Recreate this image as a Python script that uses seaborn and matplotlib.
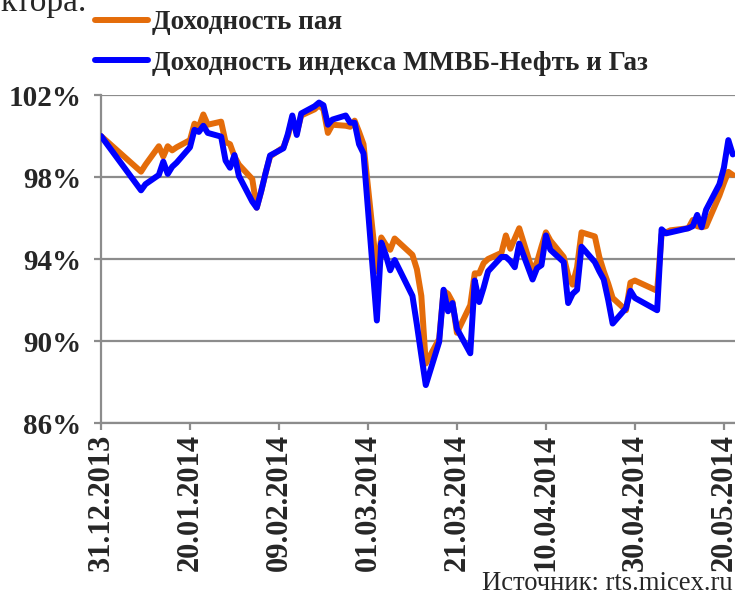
import matplotlib
matplotlib.use("Agg")
import matplotlib.pyplot as plt
import matplotlib.dates as mdates
import matplotlib.ticker as mticker
from matplotlib.lines import Line2D
import seaborn as sns
import pandas as pd

# ---- data ----
dates = [
    "2013-12-31", "2014-01-09", "2014-01-10", "2014-01-13", "2014-01-14", "2014-01-15",
    "2014-01-16", "2014-01-17", "2014-01-20", "2014-01-21", "2014-01-22", "2014-01-23",
    "2014-01-24", "2014-01-27", "2014-01-28", "2014-01-29", "2014-01-30", "2014-01-31",
    "2014-02-03", "2014-02-04", "2014-02-05", "2014-02-06", "2014-02-07", "2014-02-10",
    "2014-02-11", "2014-02-12", "2014-02-13", "2014-02-14", "2014-02-17", "2014-02-18",
    "2014-02-19", "2014-02-20", "2014-02-21", "2014-02-24", "2014-02-25", "2014-02-26",
    "2014-02-27", "2014-02-28", "2014-03-03", "2014-03-04", "2014-03-05", "2014-03-06",
    "2014-03-07", "2014-03-11", "2014-03-12", "2014-03-13", "2014-03-14", "2014-03-17",
    "2014-03-18", "2014-03-19", "2014-03-20", "2014-03-21", "2014-03-24", "2014-03-25",
    "2014-03-26", "2014-03-27", "2014-03-28", "2014-03-31", "2014-04-01", "2014-04-02",
    "2014-04-03", "2014-04-04", "2014-04-07", "2014-04-08", "2014-04-09", "2014-04-10",
    "2014-04-11", "2014-04-14", "2014-04-15", "2014-04-16", "2014-04-17", "2014-04-18",
    "2014-04-21", "2014-04-22", "2014-04-23", "2014-04-24", "2014-04-25", "2014-04-28",
    "2014-04-29", "2014-04-30", "2014-05-05", "2014-05-06", "2014-05-07", "2014-05-08",
    "2014-05-12", "2014-05-13", "2014-05-14", "2014-05-15", "2014-05-16", "2014-05-19",
    "2014-05-20", "2014-05-21", "2014-05-22",
]

fund = [  # Доходность пая, %
    100.0, 98.26, 98.6, 99.5, 99.0, 99.5,
    99.3, 99.45, 99.8, 100.6, 100.45, 101.05,
    100.55, 100.7, 99.7, 99.6, 99.0, 98.6,
    97.9, 96.5, 97.3, 98.2, 99.0, 99.45,
    100.0, 100.85, 100.15, 101.0, 101.3, 101.5,
    101.3, 100.15, 100.55, 100.5, 100.45, 100.75,
    100.2, 99.6, 93.4, 95.05, 94.7, 94.45,
    95.0, 94.2, 93.5, 92.2, 88.9, 90.1,
    92.45, 92.3, 91.9, 90.4, 91.75, 93.3,
    93.3, 93.8, 94.0, 94.3, 95.15, 94.5,
    95.0, 95.5, 93.4, 93.85, 94.6, 95.3,
    94.9, 94.1, 93.2, 92.75, 93.6, 95.3,
    95.1, 94.1, 93.4, 92.8, 92.1, 91.5,
    92.85, 92.95, 92.45, 95.2, 95.3, 95.4,
    95.5, 95.9, 95.6, 95.55, 95.6, 97.1,
    97.7, 98.25, 98.1,
]

index_oil_gas = [  # Доходность индекса ММВБ-Нефть и Газ, %
    100.0, 97.35, 97.65, 98.1, 98.75, 98.15,
    98.5, 98.7, 99.45, 100.3, 100.2, 100.5,
    100.15, 99.97, 98.8, 98.45, 99.07, 98.05,
    96.8, 96.5, 97.3, 98.2, 99.05, 99.4,
    100.1, 101.0, 100.05, 101.1, 101.45, 101.63,
    101.5, 100.55, 100.8, 101.0, 100.65, 100.65,
    99.6, 99.15, 91.0, 94.8, 94.2, 93.45,
    93.95, 92.2, 90.8, 89.3, 87.85, 89.95,
    92.5, 91.45, 91.85, 90.6, 89.4, 92.95,
    91.9, 92.6, 93.4, 94.1, 94.1, 93.9,
    93.6, 94.75, 93.0, 93.55, 93.7, 95.15,
    94.45, 93.85, 91.85, 92.3, 92.5, 94.6,
    93.85, 93.4, 93.0, 92.0, 90.85, 91.6,
    92.45, 92.1, 91.5, 95.45, 95.25, 95.3,
    95.5, 95.6, 96.15, 95.55, 96.4, 97.65,
    98.45, 99.8, 99.1,
]

series_names = ["Доходность пая", "Доходность индекса ММВБ-Нефть и Газ"]
colors = ["#E46C0A", "#0000FF"]

y_ticks = [86, 90, 94, 98, 102]
x_tick_dates = ["2013-12-31", "2014-01-20", "2014-02-09", "2014-03-01",
                "2014-03-21", "2014-04-10", "2014-04-30", "2014-05-20"]

df = pd.DataFrame({
    "date": pd.to_datetime(dates * 2),
    "value": fund + index_oil_gas,
    "series": [series_names[0]] * len(dates) + [series_names[1]] * len(dates),
})

# ---- plot ----
sns.set_theme(style="white")
plt.rcParams["font.family"] = ["Liberation Serif", "DejaVu Serif"]

fig = plt.figure(figsize=(7.35, 6.01), dpi=100)
ax = fig.add_axes([101 / 735, 1 - 423 / 601, 634 / 735, (423 - 95) / 601])

lw = 4.3
sns.lineplot(data=df, x="date", y="value", hue="series", hue_order=series_names,
             palette=colors, linewidth=lw, ax=ax, legend=False, zorder=3)

grid_c = "#8C8C8C"
ax.set_ylim(86, 102)
ax.set_xlim(pd.Timestamp("2013-12-31"), pd.Timestamp("2013-12-31") + pd.Timedelta(days=142.5))
ax.set_yticks(y_ticks)
ax.yaxis.set_major_formatter(mticker.FuncFormatter(lambda v, p: f"{v:.0f}%"))
ax.set_xticks(pd.to_datetime(x_tick_dates))
ax.xaxis.set_major_formatter(mdates.DateFormatter("%d.%m.%Y"))
ax.grid(axis="y", color=grid_c, linewidth=1.6, zorder=0)
ax.grid(axis="x", visible=False)
for s in ["top", "right"]:
    ax.spines[s].set_visible(False)
for s in ["left", "bottom"]:
    ax.spines[s].set_color(grid_c)
    ax.spines[s].set_linewidth(1.6)
ax.tick_params(axis="both", which="major", direction="out", length=5, width=1.6,
               color=grid_c, left=True, bottom=True)
ax.tick_params(axis="y", pad=9, labelsize=21)
ax.tick_params(axis="x", pad=3, labelsize=22, labelrotation=90)
for lab in ax.get_yticklabels() + ax.get_xticklabels():
    lab.set_fontweight("bold")
ax.set_xlabel("")
ax.set_ylabel("")

# legend
handles = [Line2D([], [], color=c, linewidth=lw) for c in colors]
fig.legend(handles, series_names, loc="upper left", bbox_to_anchor=(95 / 735, 1 - 10 / 601),
           frameon=False, handlelength=1.95, handletextpad=0.15, labelspacing=0.58,
           borderpad=0, borderaxespad=0,
           prop={"family": "Liberation Serif", "weight": "bold", "size": 19.5})

# partial text at top (cut off) and source note
fig.text(0.0, 1 - 3 / 601, "ктора.", fontsize=24, ha="left", va="center")
fig.text(733 / 735, 1 - 583 / 601, "Источник: rts.micex.ru", fontsize=19.2,
         ha="right", va="center")

fig.savefig("out.png", dpi=100)
